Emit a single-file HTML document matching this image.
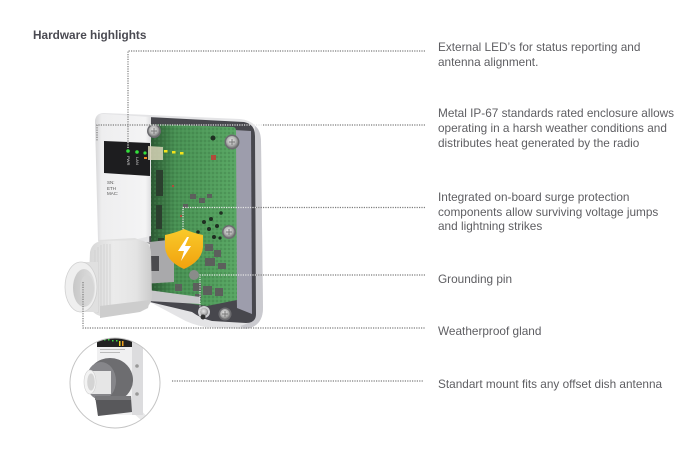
<!DOCTYPE html>
<html><head><meta charset="utf-8"><style>
html,body{margin:0;padding:0;background:#fff;}
body{width:691px;height:450px;position:relative;overflow:hidden;font-family:"Liberation Sans",sans-serif;}
.t{position:absolute;left:438px;font-size:11.8px;line-height:15px;color:#5e5e62;white-space:nowrap;}
.h{position:absolute;left:33px;top:28px;font-size:11.8px;font-weight:bold;color:#4a4a52;line-height:15px;white-space:nowrap;}
svg{position:absolute;left:0;top:0;}
</style></head><body>
<svg width="691" height="450" viewBox="0 0 691 450" xmlns="http://www.w3.org/2000/svg">
<defs>
<linearGradient id="pcb" x1="151" y1="0" x2="236" y2="0" gradientUnits="userSpaceOnUse">
<stop offset="0" stop-color="#2c5833"/><stop offset="0.28" stop-color="#478f52"/><stop offset="1" stop-color="#58a663"/></linearGradient>
<pattern id="dots" width="4" height="4" patternUnits="userSpaceOnUse">
<circle cx="1" cy="1" r="0.6" fill="#2a5a30"/><circle cx="3" cy="3" r="0.5" fill="#6fb879"/></pattern>
<linearGradient id="panel" x1="95" y1="0" x2="151" y2="0" gradientUnits="userSpaceOnUse">
<stop offset="0" stop-color="#d6d6d8"/><stop offset="0.12" stop-color="#eeeeef"/><stop offset="0.9" stop-color="#f4f4f5"/><stop offset="1" stop-color="#dedee0"/></linearGradient>
<linearGradient id="shield" x1="0" y1="229" x2="0" y2="269" gradientUnits="userSpaceOnUse">
<stop offset="0" stop-color="#f9ca2a"/><stop offset="1" stop-color="#f1a20e"/></linearGradient>
<radialGradient id="screw" cx="0.45" cy="0.4" r="0.6">
<stop offset="0" stop-color="#e6e6e6"/><stop offset="0.6" stop-color="#b5b5b5"/><stop offset="1" stop-color="#7a7a7a"/></radialGradient>
<linearGradient id="nut" x1="88" y1="0" x2="152" y2="0" gradientUnits="userSpaceOnUse">
<stop offset="0" stop-color="#d6d6d6"/><stop offset="0.4" stop-color="#ebebeb"/><stop offset="0.75" stop-color="#e4e4e4"/><stop offset="1" stop-color="#cbcbcb"/></linearGradient>
<linearGradient id="tubeIn" x1="72" y1="0" x2="96" y2="0" gradientUnits="userSpaceOnUse">
<stop offset="0" stop-color="#c6c6c6"/><stop offset="1" stop-color="#e0e0e0"/></linearGradient>
<clipPath id="ic"><circle cx="115" cy="383" r="45"/></clipPath>
</defs>

<!-- enclosure outer shell -->
<path d="M95,122 Q95,113 104,113 L150,115 L240,119 Q260,121 261,142 L263,308 Q263,328 243,329 L205,327 Q190,324 180,318 L150,302 L135,300 L100,246 Z" fill="#e4e4e6"/>
<path d="M255,126 Q261,130 261,142 L263,308 Q263,326 246,329 L240,326 Q256,322 256,310 L255,136 Z" fill="#cacacf"/>
<!-- dark frame -->
<path d="M148,117 L244,122 Q255,124 255,136 L256,314 Q256,323 246,323 L212,321 Q200,318 192,312 L150,302 Z" fill="#47474d"/>
<!-- right inner wall -->
<path d="M234,130 L251,131 L252,314 L237,308 Z" fill="#9d9dac"/>
<!-- PCB -->
<path d="M151,124 L233,127 Q236,127 236,131 L237,300 L207,306 L151,298 Z" fill="url(#pcb)"/>
<path d="M151,124 L233,127 Q236,127 236,131 L237,300 L207,306 L151,298 Z" fill="url(#dots)" opacity="0.7"/>
<!-- PCB components -->
<g fill="#2b3f2e">
<rect x="156" y="170" width="7" height="26"/><rect x="156" y="205" width="6" height="24"/>
<rect x="158" y="238" width="6" height="14"/>
</g>
<g fill="#5c5f5c">
<rect x="190" y="194" width="6" height="5"/><rect x="199" y="198" width="6" height="5"/><rect x="207" y="194" width="5" height="4"/>
<rect x="183" y="204" width="5" height="4"/>
<rect x="205" y="244" width="8" height="7"/><rect x="214" y="250" width="7" height="7"/><rect x="205" y="258" width="10" height="8"/><rect x="218" y="263" width="8" height="6"/>
<rect x="193" y="283" width="8" height="8"/><rect x="203" y="286" width="9" height="9"/><rect x="215" y="288" width="8" height="8"/><rect x="195" y="294" width="6" height="6"/>
<rect x="175" y="284" width="7" height="7"/><rect x="168" y="276" width="6" height="6"/>
</g>
<circle cx="194" cy="275" r="5" fill="#8a8c8a"/>
<g fill="#1e2e21">
<circle cx="204" cy="222" r="2"/><circle cx="211" cy="219" r="2"/><circle cx="209" cy="229" r="2"/><circle cx="217" cy="226" r="2"/><circle cx="214" cy="237" r="2"/><circle cx="221" cy="213" r="1.8"/><circle cx="198" cy="232" r="1.8"/><circle cx="220" cy="238" r="1.6"/>
<circle cx="213" cy="138" r="2.5"/>
</g>
<g fill="#b04a3a">
<rect x="211" y="155" width="5" height="5"/><rect x="172" y="185" width="2" height="2"/><rect x="180" y="215" width="2" height="2"/><rect x="166" y="262" width="2" height="2"/><rect x="177" y="300" width="2" height="2"/>
</g>

<!-- left label panel -->
<path d="M95,122 Q95,114 104,114 L151,117 L151,236 L133,240 L112,243 L98,240 Z" fill="url(#panel)"/>
<path d="M104,141 L150,143 L150,176 L104,173 Z" fill="#1d1d1f"/>
<circle cx="128" cy="151" r="1.8" fill="#33e03c"/><circle cx="137" cy="152" r="1.8" fill="#33e03c"/><circle cx="145" cy="153" r="1.6" fill="#33e03c"/>
<rect x="144" y="157" width="3" height="2" fill="#f08a20"/>
<text x="0" y="0" font-family="Liberation Sans,sans-serif" font-size="4" fill="#ddd" transform="translate(127,156) rotate(90)">PWR</text>
<text x="0" y="0" font-family="Liberation Sans,sans-serif" font-size="4" fill="#ddd" transform="translate(136,157) rotate(90)">LAN</text>
<text x="107" y="184" font-family="Liberation Sans,sans-serif" font-size="4.5" fill="#555">SN:</text>
<text x="107" y="190" font-family="Liberation Sans,sans-serif" font-size="4.5" fill="#555">ETH</text>
<text x="107" y="195" font-family="Liberation Sans,sans-serif" font-size="4.5" fill="#555">MAC:</text>
<!-- light pipe & yellow leds -->
<path d="M148,146 L163,147 L163,160 L148,160 Z" fill="#d6d2b6" opacity="0.85"/>
<rect x="164" y="150" width="3.5" height="2.5" fill="#f2e21a"/><rect x="172" y="151" width="3.5" height="2.5" fill="#f2e21a"/><rect x="180" y="152" width="3.5" height="2.5" fill="#f2e21a"/>

<!-- screws -->
<g><circle cx="154" cy="131" r="7" fill="#6c6c70"/><circle cx="154" cy="131" r="5.5" fill="url(#screw)"/><path d="M151,131 h6 M154,128 v6" stroke="#777" stroke-width="1"/></g>
<g><circle cx="232" cy="142" r="7.5" fill="#6c6c70"/><circle cx="232" cy="142" r="6" fill="url(#screw)"/><path d="M229,142 h6 M232,139 v6" stroke="#777" stroke-width="1"/></g>
<g><circle cx="229" cy="232" r="7" fill="#6c6c70"/><circle cx="229" cy="232" r="5.5" fill="url(#screw)"/><path d="M226,232 h6 M229,229 v6" stroke="#777" stroke-width="1"/></g>
<g><circle cx="225" cy="314" r="6.5" fill="#6c6c70"/><circle cx="225" cy="314" r="5" fill="url(#screw)"/><path d="M222,314 h6 M225,311 v6" stroke="#777" stroke-width="1"/></g>
<g><circle cx="204" cy="312" r="6" fill="#cfcfd2"/><circle cx="204" cy="312" r="4" fill="url(#screw)"/><circle cx="203" cy="317" r="2.5" fill="#333"/></g>

<!-- RJ45 -->
<path d="M140,243 L168,240 L174,245 L174,282 L142,284 Z" fill="#a9a9ab"/>
<path d="M140,243 L150,243 L150,284 L142,284 Z" fill="#8a8a8c"/>
<rect x="150" y="256" width="9" height="15" fill="#4b4b4e"/>
<!-- bottom clamp bar -->
<path d="M148,290 L200,297 L200,304 L148,301 Z" fill="#c7c7c9"/>

<!-- gland rear -->
<path d="M98,240 L135,238 L150,244 L150,300 L110,302 Z" fill="#e0e0e0"/>
<!-- nut -->
<path d="M90,252 Q92,242 102,241 L140,240 Q150,242 151,252 L152,298 Q150,308 140,310 L100,316 Q90,313 88,300 Z" fill="url(#nut)"/>
<g stroke="#cfcfcf" stroke-width="0.8">
<line x1="95" y1="250" x2="95" y2="312"/><line x1="98" y1="247" x2="98" y2="313"/><line x1="101" y1="245" x2="101" y2="314"/><line x1="104" y1="244" x2="104" y2="314"/><line x1="107" y1="244" x2="107" y2="313"/><line x1="110" y1="244" x2="110" y2="312"/>
</g>
<path d="M100,306 L150,300 L148,308 L140,312 L100,318 Z" fill="#cdcdcd"/>
<!-- front tube -->
<rect x="81" y="262" width="17" height="50" fill="#e0e0e0"/>
<ellipse cx="81" cy="287" rx="16" ry="25" fill="#efefef" stroke="#d0d0d0" stroke-width="0.8"/>
<ellipse cx="84" cy="288" rx="11" ry="19" fill="url(#tubeIn)"/>
<ellipse cx="87" cy="289" rx="7" ry="14" fill="#d6d6d6"/>

<!-- shield -->
<path d="M165,235 Q175,233 184,229 Q193,233 203,235 L203,247 Q202,261 184,269 Q166,261 165,247 Z" fill="url(#shield)"/>
<path d="M187,237 L178,251 L184,251 L181,261 L191,246 L185,246 L189,237 Z" fill="#fff"/>

<!-- dotted connectors -->
<g fill="none" stroke="#7c7c7c" stroke-width="1.2" stroke-dasharray="1.2 1.2">
<path d="M425,51 H128 V142"/>
<path d="M425,125 H262"/><path d="M150,125 H97 V141"/>
<path d="M425,207.5 H256"/>
<path d="M425,275 H256"/>
<path d="M83,282 V328 H425"/>
<path d="M172,381 H423"/>
</g>
<g fill="none" stroke="#e6e6e6" stroke-width="1.2" stroke-dasharray="1.2 1.2">
<path d="M128,142 V149"/>
<path d="M262,125 H150"/>
<path d="M256,207.5 H183 V230"/>
<path d="M256,275 H200 V316"/>
</g>

<!-- inset circle -->
<circle cx="115" cy="383" r="45" fill="#fff"/>
<g clip-path="url(#ic)">
<path d="M124,405 L150,428 L158,428 L133,402 Z" fill="#e9e9ea"/>
<rect x="97" y="335" width="46" height="80" fill="#f0f0f1"/>
<rect x="132" y="335" width="11" height="80" fill="#dcdcde"/>
<circle cx="137" cy="366" r="1.8" fill="#999"/><circle cx="137" cy="394" r="1.8" fill="#999"/>
<rect x="97" y="335" width="35" height="12" fill="#222"/>
<g fill="#3cd844"><rect x="104" y="339" width="1.5" height="1.5"/><rect x="108" y="339" width="1.5" height="1.5"/><rect x="112" y="340" width="1.5" height="1.5"/><rect x="116" y="340" width="1.5" height="1.5"/></g>
<rect x="119" y="341" width="1.5" height="5" fill="#e8d020"/><rect x="122" y="341" width="1.5" height="5" fill="#f0a020"/>
<rect x="100" y="349" width="25" height="1" fill="#bbb"/><rect x="100" y="352" width="20" height="1" fill="#bbb"/>
<ellipse cx="110" cy="380" rx="23" ry="22" fill="#6d6d70"/>
<ellipse cx="101" cy="381" rx="15" ry="19" fill="#86868a"/>
<path d="M95,396 L131,396 L132,412 L98,416 Z" fill="#58585b"/>
<path d="M95,396 L131,396 L131,400 L95,400 Z" fill="#77777a"/>
<rect x="89" y="371" width="22" height="23" fill="#e6e6e6"/>
<ellipse cx="90" cy="382" rx="6" ry="12" fill="#f3f3f3" stroke="#cfcfcf" stroke-width="0.6"/>
<ellipse cx="91" cy="382" rx="3.8" ry="8.5" fill="#d4d4d4"/>
</g>
<circle cx="115" cy="383" r="45" fill="none" stroke="#c4c4c4" stroke-width="1"/>
</svg>

<div class="h">Hardware highlights</div>
<div class="t" style="top:40px">External LED’s for status reporting and<br>antenna alignment.</div>
<div class="t" style="top:106px">Metal IP-67 standards rated enclosure allows<br>operating in a harsh weather conditions and<br>distributes heat generated by the radio</div>
<div class="t" style="top:190px;line-height:14.5px">Integrated on-board surge protection<br>components allow surviving voltage jumps<br>and lightning strikes</div>
<div class="t" style="top:272px">Grounding pin</div>
<div class="t" style="top:324px">Weatherproof gland</div>
<div class="t" style="top:377px">Standart mount fits any offset dish antenna</div>
</body></html>
